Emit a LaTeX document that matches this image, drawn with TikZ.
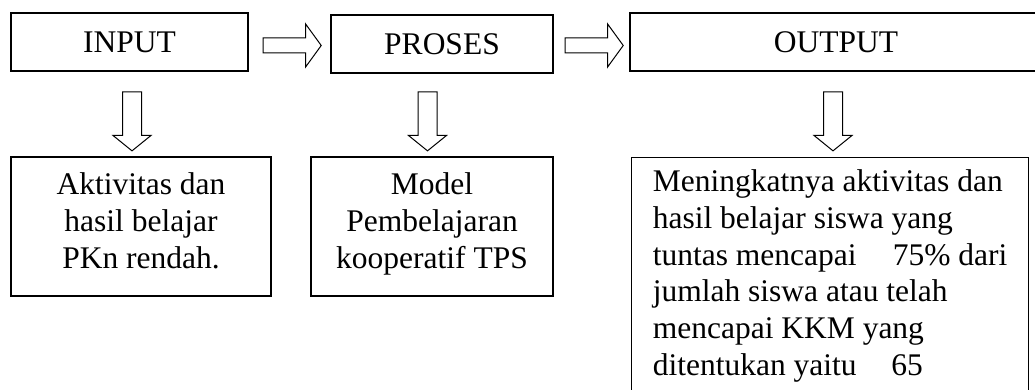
\documentclass[tikz,border=0pt]{standalone}
\usepackage{fontspec}
\setmainfont{Liberation Serif}
\usepackage{tikz}
\usetikzlibrary{shapes.arrows, calc}

\begin{document}
\begin{tikzpicture}[
  x=1pt, y=-1pt,
  every node/.style={font=\fontsize{31.5}{36.7}\selectfont},
  box/.style={draw, line width=1.2pt, inner sep=0pt, align=center},
  blockright/.style={draw, line width=1pt, single arrow, inner sep=0pt,
    text height=14pt, text depth=0pt, minimum height=58pt,
    single arrow head extend=14pt, single arrow tip angle=108},
  blockdown/.style={draw, line width=1pt, single arrow, inner sep=0pt, rotate=-90,
    text height=18pt, text depth=0pt, minimum height=59pt,
    single arrow head extend=9.5pt, single arrow tip angle=102}
]
  \useasboundingbox (0,0) rectangle (1035,390);

  % Top row
  \node[box, minimum width=237pt, minimum height=58pt] (in) at (129.5,42) {INPUT};
  \node[box, minimum width=222pt, minimum height=58pt] (pr) at (442,44) {PROSES};
  \node[box, minimum width=412pt, minimum height=58pt] (out) at (836,42) {OUTPUT};

  % Arrows between top boxes
  \node[blockright] (a1) at ($(in.east)!0.5!(pr.west)+(0,2.5)$) {};
  \node[blockright] (a2) at ($(pr.east)!0.5!(out.west)+(0,2.5)$) {};

  % Arrows down
  \node[blockdown] (d1) at (132,117.5) {};
  \node[blockdown] (d2) at (427.5,117.5) {};
  \node[blockdown] (d3) at (833,117.5) {};

  % Bottom row
  \node[box, minimum width=260pt, minimum height=139pt, text depth=12pt] (in-b) at (141,226.5)
    {Aktivitas dan\\hasil belajar\\PKn rendah.};
  \node[box, minimum width=242pt, minimum height=139pt, text depth=12pt] (pr-b) at (432,226.5)
    {Model\\Pembelajaran\\kooperatif TPS};
  \node[box, anchor=north west, align=left, minimum width=397pt, minimum height=237pt] (out-b) at (631,157)
    {Meningkatnya aktivitas dan\\hasil belajar siswa yang\\tuntas mencapai\hspace{1.15em}75\% dari\\jumlah siswa atau telah\\mencapai KKM yang\\ditentukan yaitu\hspace{1.1em}65};

\end{tikzpicture}
\end{document}
